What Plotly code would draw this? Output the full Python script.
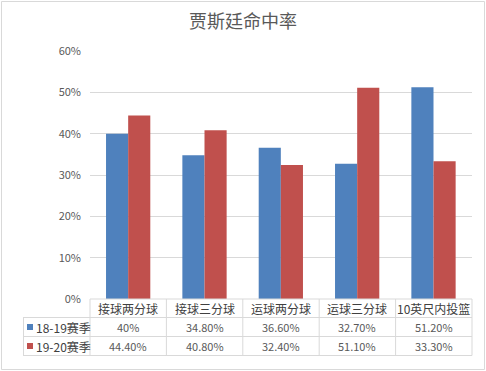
import plotly.graph_objects as go

categories = ["接球两分球", "接球三分球", "运球两分球", "运球三分球", "10英尺内投篮"]
series_names = ["18-19赛季", "19-20赛季"]
s1819 = [40.0, 34.8, 36.6, 32.7, 51.2]
s1920 = [44.4, 40.8, 32.4, 51.1, 33.3]
colors = ["#4f81bd", "#c0504d"]
y_ticks = [0, 10, 20, 30, 40, 50, 60]

W, H = 486, 371
L, R, T, B = 90, 472, 51, 299
FONT = "Noto Sans CJK SC"
GRID = "#d9d9d9"
TXT = "#595959"


def px(x):
    return (x - L) / (R - L)


def py(y):
    return (B - y) / (B - T)


def fmt(v):
    return f"{v:g}%" if float(v).is_integer() else f"{v:.2f}%"


fig = go.Figure()
for name, vals, c in zip(series_names, [s1819, s1920], colors):
    fig.add_trace(go.Bar(x=categories, y=vals, name=name, marker_color=c,
                         marker_line_width=0, showlegend=False))

shapes = []
# outer chart border
shapes.append(dict(type="rect", xref="paper", yref="paper", x0=px(1.5), x1=px(484.5),
                   y0=py(369.5), y1=py(1.5), line=dict(color="#d9d9d9", width=1)))
# table horizontal lines
rows = [299, 317.5, 336.5, 355.5]
for i, ry in enumerate(rows):
    x0 = L if i == 0 else 23
    shapes.append(dict(type="line", xref="paper", yref="paper", x0=px(x0), x1=px(R),
                       y0=py(ry), y1=py(ry), line=dict(color=GRID, width=1)))
# vertical lines
n = len(categories)
colw = (R - L) / n
for k in range(n + 1):
    xv = L + k * colw
    shapes.append(dict(type="line", xref="paper", yref="paper", x0=px(xv), x1=px(xv),
                       y0=py(299), y1=py(355.5), line=dict(color=GRID, width=1)))
shapes.append(dict(type="line", xref="paper", yref="paper", x0=px(23.5), x1=px(23.5),
                   y0=py(317.5), y1=py(355.5), line=dict(color=GRID, width=1)))
# legend keys
for i, c in enumerate(colors):
    cy = (317.5 + 336.5) / 2 + i * 19
    shapes.append(dict(type="rect", xref="paper", yref="paper", x0=px(27), x1=px(33),
                       y0=py(cy + 3), y1=py(cy - 3), fillcolor=c, line=dict(width=0)))

annotations = []
for k, cat in enumerate(categories):
    annotations.append(dict(x=cat, xref="x", y=py(308.5), yref="paper", text=cat,
                            showarrow=False, font=dict(family=FONT, size=12, color="#404040"),
                            xanchor="center", yanchor="middle"))
    for i, vals in enumerate([s1819, s1920]):
        cy = (317.5 + 336.5) / 2 + i * 19
        annotations.append(dict(x=cat, xref="x", y=py(cy), yref="paper", text=fmt(vals[k]),
                                showarrow=False, font=dict(family=FONT, size=11, color=TXT),
                                xanchor="center", yanchor="middle"))
for i, name in enumerate(series_names):
    cy = (317.5 + 336.5) / 2 + i * 19
    annotations.append(dict(x=px(34), xref="paper", y=py(cy), yref="paper", text=name,
                            showarrow=False, font=dict(family=FONT, size=12, color="#404040"),
                            xanchor="left", yanchor="middle"))

fig.update_layout(
    width=W, height=H,
    margin=dict(l=L, r=W - R, t=T, b=H - B),
    paper_bgcolor="white", plot_bgcolor="white",
    barmode="group", bargap=0.42, bargroupgap=0,
    title=dict(text="贾斯廷命中率", x=0.5, xref="container", xanchor="center",
               y=1 - 22 / H, yanchor="middle", yref="container",
               font=dict(family=FONT, size=18, color=TXT)),
    xaxis=dict(showticklabels=False, showgrid=False, zeroline=False, showline=False,
               ticks=""),
    yaxis=dict(range=[0, 60], tickvals=y_ticks, ticktext=[f"{v}%" for v in y_ticks],
               showgrid=True, gridcolor=GRID, gridwidth=1, zeroline=False, showline=False,
               tickfont=dict(family=FONT, size=11, color=TXT), ticks="", ticklen=0),
    shapes=shapes, annotations=annotations,
)
fig.update_yaxes(ticklabelstandoff=8)

fig.write_html("out.html")
